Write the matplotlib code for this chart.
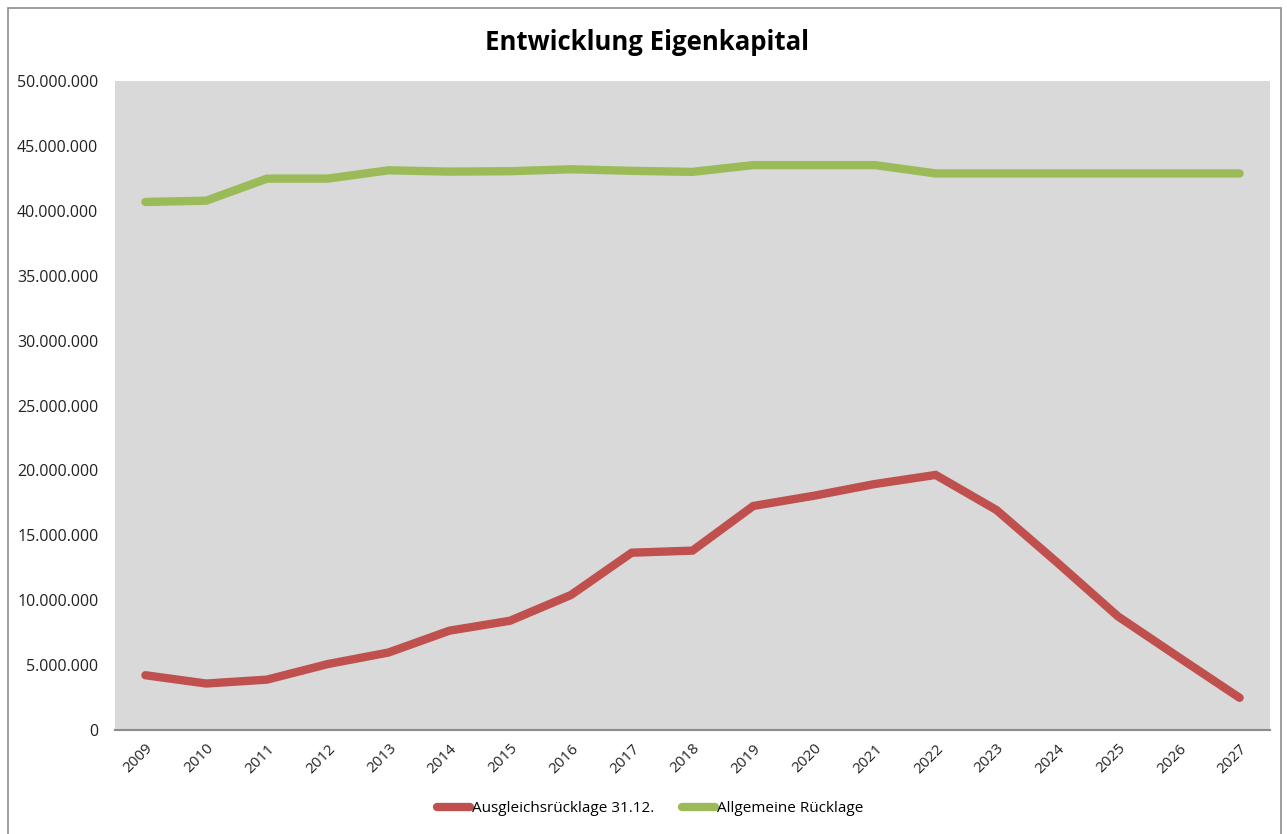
import matplotlib
matplotlib.use("Agg")
import matplotlib.pyplot as plt
from matplotlib.patches import Rectangle
from matplotlib.ticker import FuncFormatter

years = [str(y) for y in range(2009, 2028)]
ausgleich = [4.22, 3.58, 3.88, 5.08, 5.97, 7.65, 8.42, 10.4, 13.66, 13.82, 17.26,
             18.05, 18.95, 19.65, 16.95, 12.9, 8.75, 5.6, 2.48]
ausgleich = [v * 1e6 for v in ausgleich]
allgemein = [40.68, 40.78, 42.48, 42.48, 43.12, 43.02, 43.05, 43.2, 43.08, 43.0, 43.52,
             43.52, 43.52, 42.88, 42.88, 42.88, 42.88, 42.88, 42.88]
allgemein = [v * 1e6 for v in allgemein]
series_names = ["Ausgleichsrücklage 31.12.", "Allgemeine Rücklage"]
title = "Entwicklung Eigenkapital"

plt.rcParams['font.family'] = ['Open Sans', 'DejaVu Sans']

fig = plt.figure(figsize=(12.87, 8.34), dpi=100)
ax = fig.add_axes([115/1287, 1 - 730/834, (1270-115)/1287, (730-81)/834])
ax.set_facecolor('#d9d9d9')

x = list(range(len(years)))
ax.plot(x, ausgleich, color='#C0504D', lw=6, solid_capstyle='round', solid_joinstyle='miter',
        label=series_names[0])
ax.plot(x, allgemein, color='#9BBB59', lw=6, solid_capstyle='round', solid_joinstyle='miter',
        label=series_names[1])

ax.set_xlim(-0.5, len(years) - 0.5)
ax.set_ylim(0, 50e6)
ax.set_yticks([i * 5e6 for i in range(11)])
ax.yaxis.set_major_formatter(FuncFormatter(lambda v, p: f"{int(v):,}".replace(",", ".")))
ax.set_xticks(x)
ax.set_xticklabels(years, rotation=45, ha='right', rotation_mode='anchor', fontsize=11)
for lab in ax.get_yticklabels():
    lab.set_fontsize(11.5)
ax.tick_params(axis='both', length=0, colors='#222222')
ax.tick_params(axis='y', pad=12)
ax.tick_params(axis='x', pad=8)
for s in ['top', 'right', 'left']:
    ax.spines[s].set_visible(False)
ax.spines['bottom'].set_color('#8c8c8c')
ax.spines['bottom'].set_linewidth(1.5)

fig.text(647/1287, 1 - 42/834, title, ha='center', va='center', fontsize=18.5, fontweight='bold')

leg = fig.legend(loc='center', bbox_to_anchor=(650/1287, 1 - 809/834), ncol=2, frameon=False,
                 fontsize=11, handlelength=2.2, handletextpad=0.1, columnspacing=1.8)

fig.patches.append(Rectangle((8/1287, -0.01), (1281-8)/1287, (834-8)/834 + 0.01,
                             transform=fig.transFigure, fill=False, edgecolor='#8c8c8c', lw=1.2))

fig.savefig('out.png', dpi=100, facecolor='white')
